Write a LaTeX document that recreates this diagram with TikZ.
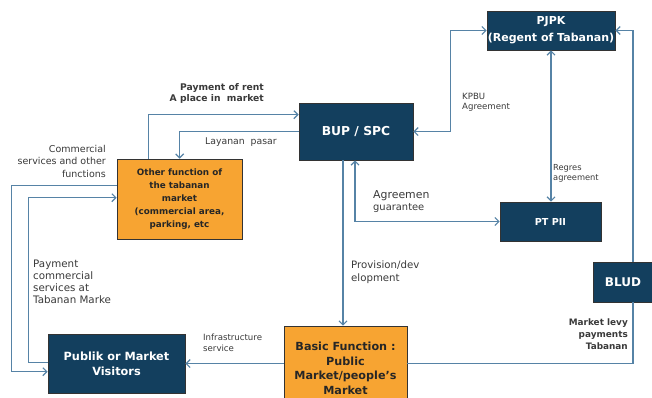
\documentclass[tikz,border=0pt]{standalone}
\usepackage{fontspec}
\setmainfont{DejaVu Sans}
\usetikzlibrary{arrows.meta}
\definecolor{navy}{HTML}{133F5E}
\definecolor{marketorange}{HTML}{F7A432}
\definecolor{flowblue}{HTML}{5683A6}
\definecolor{labelgrey}{HTML}{3A3A3A}

\begin{document}
\begin{tikzpicture}[x=1pt,y=-1pt,>={Straight Barb[length=4pt,width=8pt]}]
    \tikzstyle{party}=[draw=black!80,line width=0.6pt,fill=navy,text=white,
      font=\bfseries,align=center,inner sep=0pt]
    \tikzstyle{market}=[draw=black!80,line width=0.6pt,fill=marketorange,text=black!85,
      font=\bfseries,align=center,inner sep=0pt]
    \tikzstyle{flow}=[draw=flowblue,line width=1.2pt]
    \tikzstyle{lbl}=[text=labelgrey,inner sep=0pt,font=\fontsize{9.3}{12}\selectfont]
    \tikzstyle{small lbl}=[text=labelgrey,inner sep=0pt,font=\fontsize{8.6}{10.5}\selectfont]
    \clip (0,0) rectangle (652,397);
    \fill[white] (0,0) rectangle (652,397);

    % actors
    \node[party,minimum width=128,minimum height=39,font=\bfseries\fontsize{11}{17}\selectfont]
      (pjpk) at (551,30.5) {PJPK\\(Regent of Tabanan)};
    \node[party,minimum width=114,minimum height=57,font=\bfseries\fontsize{12.3}{14}\selectfont]
      (bup) at (356,131.5) {BUP / SPC};
    \node[party,minimum width=101,minimum height=39,font=\bfseries\fontsize{9.6}{12}\selectfont]
      (ptpii) at (550.5,221.5) {PT PII};
    \node[party,minimum width=60,minimum height=40,font=\bfseries\fontsize{12}{14}\selectfont]
      (blud) at (623,282) {BLUD};
    \node[party,minimum width=137,minimum height=59,font=\bfseries\fontsize{11.3}{15}\selectfont]
      (publik) at (116.5,363.5) {Publik or Market\\Visitors};

    % market functions
    \node[market,minimum width=125,minimum height=80,font=\bfseries\fontsize{8.8}{12.8}\selectfont]
      (other) at (179.5,199) {Other function of\\the tabanan\\market\\(commercial area,\\parking, etc};
    \node[market,minimum width=123,minimum height=85,font=\bfseries\fontsize{11.2}{14.6}\selectfont]
      (basic) at (345.5,368.5) {Basic Function :\\Public\\Market/people's\\Market};

    % flows
    \draw[flow,->] ([xshift=32pt]other.north west) |- ([yshift=-12pt]bup.north west);
    \draw[flow,->] ([yshift=-29pt]bup.north west) -| ([xshift=63pt]other.north west);
    \draw[flow,->] ([yshift=-27pt]other.north west) -- ++(-105,0) |- ([yshift=-38pt]publik.north west);
    \draw[flow,->] ([yshift=-29pt]publik.north west) -- ++(-19,0) |- ([yshift=-39pt]other.north west);
    \draw[flow,<->] (bup.east) -- ++(37,0) |- (pjpk.west);
    \draw[flow,<->] (pjpk.south) -- (ptpii.north -| pjpk.south);
    \draw[flow,->] ([xshift=10pt]blud.north) |- (pjpk.east);
    \draw[flow] (publik.east -| basic.east) -| ([xshift=10pt]blud.south);
    \draw[flow,<->] ([xshift=-1pt]bup.south) |- (ptpii.west);
    \draw[flow,->] ([xshift=-13pt]bup.south) -- ([xshift=-13pt]bup.south |- basic.north);
    \draw[flow,->] (publik.east -| basic.west) -- (publik.east);

    % labels
    \node[lbl,anchor=north east,align=right,font=\bfseries\fontsize{9.2}{11}\selectfont]
      (rentlbl) at (264,83) {Payment of rent\\A place in\ \ market};
    \node[lbl,anchor=north west] (layananlbl) at (205,138) {Layanan\ \ pasar};
    \node[lbl,anchor=north east,align=right,font=\fontsize{9.5}{12.5}\selectfont]
      (commlbl) at (106,145) {Commercial\\services and other\\functions};
    \node[lbl,anchor=north west,align=left,font=\fontsize{10.3}{11.8}\selectfont]
      (paylbl) at (33,260) {Payment\\commercial\\services at\\Tabanan Marke};
    \node[small lbl,anchor=north west,align=left] (kpbulbl) at (462,93) {KPBU\\Agreement};
    \node[small lbl,anchor=north west,align=left,font=\fontsize{8.3}{10.5}\selectfont]
      (regreslbl) at (553,164) {Regres\\agreement};
    \node[lbl,anchor=north west,align=left,font=\fontsize{9.9}{12}\selectfont] (guarlbl) at (373,190)
      {{\fontsize{10.9}{12}\selectfont Agreemen}\\guarantee};
    \node[lbl,anchor=north west,align=left,font=\fontsize{10.2}{12.5}\selectfont]
      (provlbl) at (351,261) {Provision/dev\\elopment};
    \node[small lbl,anchor=north west,align=left] (infralbl) at (203,334) {Infrastructure\\service};
    \node[lbl,anchor=north east,align=right,font=\bfseries\fontsize{8.9}{12}\selectfont]
      (levylbl) at (628,319) {Market levy\\payments\\Tabanan};
\end{tikzpicture}
\end{document}
